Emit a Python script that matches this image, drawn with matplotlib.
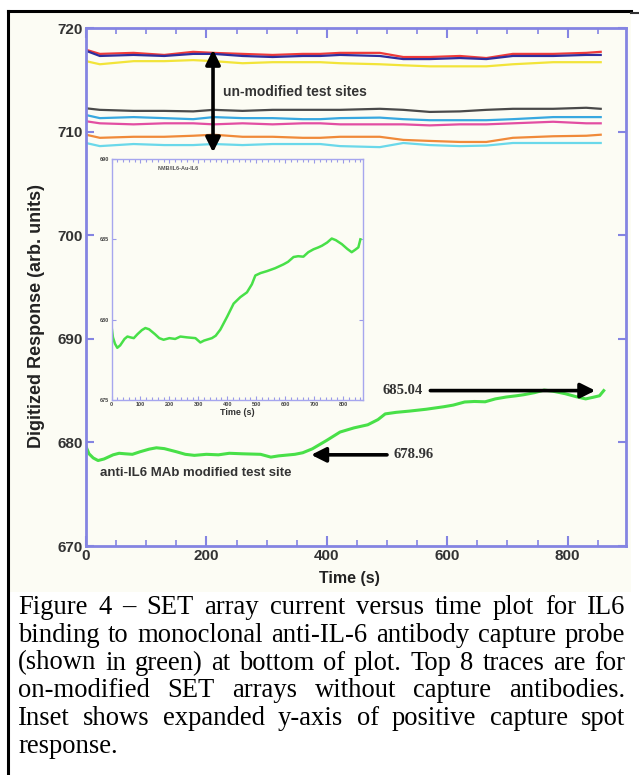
import matplotlib
matplotlib.use("Agg")
import matplotlib.pyplot as plt
from matplotlib.ticker import MultipleLocator
from matplotlib.patches import Rectangle
from matplotlib.lines import Line2D

# ---------------- data ----------------
ctrl_time = [0, 23, 79, 130, 178, 212, 260, 310, 360, 389, 422, 488, 527, 571, 621, 665, 709, 776, 831, 855]
red_vals = [717.9, 717.5, 717.6, 717.4, 717.7, 717.6, 717.5, 717.4, 717.5, 717.5, 717.6, 717.6, 717.2, 717.2, 717.3, 717.1, 717.5, 717.5, 717.6, 717.7]
navy_vals = [717.8, 717.3, 717.4, 717.3, 717.5, 717.5, 717.3, 717.2, 717.3, 717.3, 717.4, 717.3, 717.0, 717.0, 717.1, 717.0, 717.3, 717.3, 717.4, 717.4]
yellow_vals = [716.8, 716.5, 716.8, 716.8, 716.9, 716.8, 716.6, 716.7, 716.7, 716.7, 716.6, 716.5, 716.4, 716.3, 716.3, 716.3, 716.5, 716.7, 716.7, 716.7]
black_vals = [712.25, 712.1, 712.0, 712.0, 711.95, 712.1, 712.0, 712.1, 712.1, 712.1, 712.1, 712.2, 712.1, 711.9, 711.95, 712.1, 712.2, 712.2, 712.3, 712.2]
dodger_vals = [711.6, 711.3, 711.4, 711.3, 711.2, 711.4, 711.3, 711.3, 711.2, 711.2, 711.3, 711.35, 711.2, 711.1, 711.1, 711.1, 711.2, 711.4, 711.4, 711.4]
magenta_vals = [711.0, 710.8, 710.7, 710.8, 710.8, 710.7, 710.8, 710.7, 710.8, 710.8, 710.7, 710.7, 710.7, 710.6, 710.7, 710.7, 710.8, 710.95, 710.8, 710.8]
orange_vals = [709.7, 709.4, 709.5, 709.5, 709.6, 709.7, 709.5, 709.5, 709.4, 709.4, 709.5, 709.5, 709.2, 709.1, 709.0, 709.0, 709.4, 709.55, 709.6, 709.7]
cyan_vals = [708.9, 708.6, 708.8, 708.7, 708.7, 708.8, 708.7, 708.8, 708.8, 708.8, 708.6, 708.5, 708.9, 708.7, 708.6, 708.65, 708.9, 708.9, 708.9, 708.9]

ctrl_series = [red_vals, navy_vals, yellow_vals, black_vals, dodger_vals, magenta_vals, orange_vals, cyan_vals]
ctrl_colors = ["#ee3a3a", "#2e2e9e", "#f2e43a", "#4a4a4a", "#38a8e0", "#e24ea2", "#f08a3a", "#6ad8ea"]

green_time = [0, 5, 12, 20, 30, 45, 55, 65, 77, 90, 105, 117, 130, 150, 165, 180, 200, 220, 238, 260,
              290, 307, 320, 347, 360, 376, 400, 422, 445, 468, 485, 497, 515, 537, 565, 594, 610, 629,
              645, 663, 680, 698, 715, 727, 745, 761, 775, 796, 815, 830, 842, 853, 860]
green_vals = [679.6, 678.9, 678.5, 678.25, 678.4, 678.8, 678.95, 678.9, 678.85, 679.1, 679.35, 679.48,
              679.4, 679.1, 678.85, 678.75, 678.85, 678.8, 678.95, 678.9, 678.85, 678.58, 678.7, 678.85,
              679.0, 679.38, 680.2, 681.0, 681.4, 681.7, 682.2, 682.75, 682.9, 683.02, 683.2, 683.44,
              683.6, 683.9, 683.95, 683.92, 684.2, 684.38, 684.5, 684.6, 684.8, 685.05, 684.95, 684.7,
              684.4, 684.2, 684.35, 684.5, 685.0]

main_xticks = [0, 200, 400, 600, 800]
main_yticks = [670, 680, 690, 700, 710, 720]
inset_xticks = [0, 100, 200, 300, 400, 500, 600, 700, 800]
inset_yticks = [675, 680, 685, 690]

caption_lines = [
    "Figure 4 \u2013 SET array current versus time plot for IL6",
    "binding to monoclonal anti-IL-6 antibody capture probe",
    "(shown in green) at bottom of plot. Top 8 traces are for",
    "on-modified SET arrays without capture antibodies.",
    "Inset shows expanded y-axis of positive capture spot",
    "response.",
]

# ---------------- figure ----------------
W, H = 639, 775
fig = plt.figure(figsize=(W / 100, H / 100), dpi=100)
fig.patch.set_facecolor("white")
cream = "#fcfcf4"
spine_c = "#8484e2"

def fx(px):
    return px / W

def fy(py):
    return 1 - py / H

# cream panel + black frame
fig.patches.append(Rectangle((fx(8), fy(592)), fx(631) - fx(8), fy(11) - fy(592),
                             transform=fig.transFigure, facecolor=cream, edgecolor="none", zorder=-5))
fig.lines.append(Line2D([fx(8), fx(8)], [fy(775), fy(11)], transform=fig.transFigure, color="black", lw=2.2))
fig.lines.append(Line2D([fx(8), fx(631)], [fy(11), fy(11)], transform=fig.transFigure, color="black", lw=2.2))
fig.lines.append(Line2D([fx(631), fx(639)], [fy(12.5), fy(12.5)], transform=fig.transFigure, color="#333333", lw=1.5))

sans = ["Liberation Sans", "DejaVu Sans"]

# ---------------- main axes ----------------
ax = fig.add_axes([fx(86), fy(546), fx(626) - fx(86), fy(28) - fy(546)], zorder=2)
ax.set_facecolor(cream)
for t_vals, c in zip(ctrl_series, ctrl_colors):
    ax.plot(ctrl_time, t_vals, color=c, lw=1.6)
ax.plot(green_time, green_vals, color="#48e048", lw=2.2)

ax.set_xlim(0, 897)
ax.set_ylim(670, 720)
ax.set_xticks(main_xticks)
ax.set_yticks(main_yticks)
ax.xaxis.set_minor_locator(MultipleLocator(50))
for s in ax.spines.values():
    s.set_color(spine_c)
    s.set_linewidth(2)
ax.tick_params(axis="both", which="both", direction="in", color=spine_c, top=True, right=True)
ax.tick_params(axis="x", which="major", length=7, width=1.5)
ax.tick_params(axis="x", which="minor", length=4, width=1.2)
ax.tick_params(axis="y", which="major", length=6, width=1.5)
ax.tick_params(axis="both", labelsize=11, labelcolor="#333333", pad=2)
for lab in ax.get_xticklabels() + ax.get_yticklabels():
    lab.set_fontweight("bold")
    lab.set_family(sans)
ax.set_xlabel("Time (s)", fontsize=11.5, fontweight="bold", family=sans, color="#222222")
ax.xaxis.set_label_coords((349 - 86) / 540, (546 - 578) / 518)
ax.xaxis.label.set_va("center")
ax.set_ylabel("Digitized Response (arb. units)", fontsize=13, fontweight="bold", family=sans,
              color="#222222")
ax.yaxis.set_label_coords((37 - 86) / 540, (546 - 316) / 518)
ax.yaxis.label.set_va("center")

# annotations
ax.annotate("", xy=(211, 708.0), xytext=(211, 717.9),
            arrowprops=dict(arrowstyle="<|-|>", color="black", lw=2.6, mutation_scale=22,
                            shrinkA=0, shrinkB=0))
ax.text(228, 713.8, "un-modified test sites", fontsize=10, fontweight="bold", family=sans,
        color="#333333", va="center", ha="left")
ax.annotate("", xy=(374, 678.8), xytext=(500, 678.8),
            arrowprops=dict(arrowstyle="-|>", color="black", lw=2.6, mutation_scale=22,
                            shrinkA=0, shrinkB=0))
ax.text(510, 678.8, "678.96", fontsize=10.5, fontweight="bold", family=["Liberation Serif"],
        color="#333333", va="center", ha="left")
ax.annotate("", xy=(846, 685.0), xytext=(572, 685.0),
            arrowprops=dict(arrowstyle="-|>", color="black", lw=2.6, mutation_scale=22,
                            shrinkA=0, shrinkB=0))
ax.text(559, 685.0, "685.04", fontsize=10.5, fontweight="bold", family=["Liberation Serif"],
        color="#333333", va="center", ha="right")
ax.text(23, 677.05, "anti-IL6 MAb modified test site", fontsize=9.5, fontweight="bold", family=sans,
        color="#333333", va="center", ha="left")

# ---------------- inset ----------------
ins = fig.add_axes([fx(111.5), fy(400), fx(362.7) - fx(111.5), fy(159) - fy(400)], zorder=3)
ins.set_facecolor(cream)
ins.plot(green_time, green_vals, color="#48e048", lw=1.8)
ins.set_xlim(0, 868)
ins.set_ylim(675, 690)
ins.set_xticks(inset_xticks)
ins.set_yticks(inset_yticks)
ins.xaxis.set_minor_locator(MultipleLocator(20))
for s in ins.spines.values():
    s.set_color("#a6a6ee")
    s.set_linewidth(1.0)
ins.tick_params(axis="both", which="both", direction="in", color="#9a9ae8", top=True, right=True)
ins.tick_params(axis="both", which="major", length=3, width=0.8, labelsize=4, labelcolor="#444444", pad=1.5)
ins.tick_params(axis="x", which="minor", length=2, width=0.8)
for lab in ins.get_xticklabels() + ins.get_yticklabels():
    lab.set_fontweight("bold")
    lab.set_family(sans)
ins.set_xlabel("Time (s)", fontsize=6.5, fontweight="bold", family=sans, color="#333333", labelpad=1)
ins.text(160, 689.4, "NMB/IL6-Au-IL6", fontsize=4, fontweight="bold", family=sans, color="#555555",
         va="center", ha="left")

# ---------------- caption (justified) ----------------
renderer = fig.canvas.get_renderer()
cap_left, cap_right = 18, 625
base0, step = 614, 27.8
cap_fs = 19.2
serif = ["Liberation Serif", "DejaVu Serif"]
for i, line in enumerate(caption_lines):
    yb = fy(base0 + i * step)
    words = line.split(" ")
    if i == len(caption_lines) - 1:
        fig.text(fx(cap_left), yb, line, fontsize=cap_fs, family=serif, va="baseline", ha="left")
        continue
    txts = [fig.text(0, yb, w_, fontsize=cap_fs, family=serif, va="baseline", ha="left") for w_ in words]
    widths = [t.get_window_extent(renderer).width for t in txts]
    gap = (cap_right - cap_left - sum(widths)) / (len(words) - 1)
    x = cap_left
    for t, w_ in zip(txts, widths):
        t.set_x(fx(x))
        x += w_ + gap

fig.savefig("out.png", dpi=100, facecolor="white")
